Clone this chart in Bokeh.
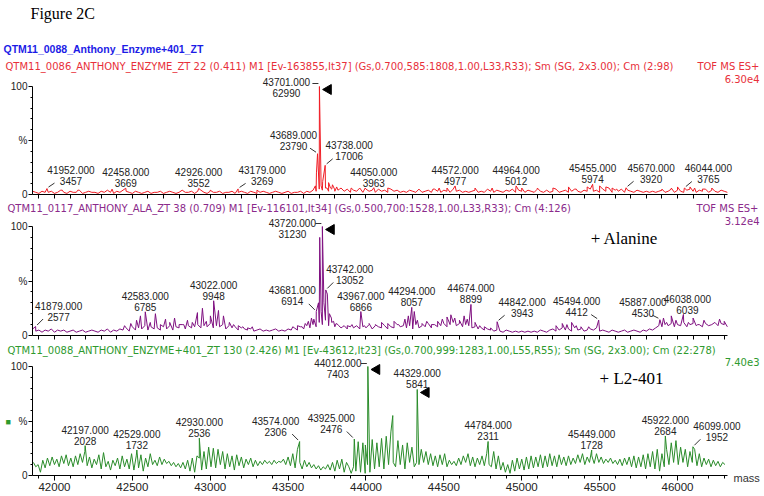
import numpy as np
from bokeh.plotting import figure
from bokeh.models import (Range1d, FixedTicker, Label, LabelSet, ColumnDataSource, LinearAxis)
from bokeh.core.properties import value
from bokeh.embed import file_html
from bokeh.resources import INLINE

try:
    from bokeh.models import GlobalInlineStyleSheet
except Exception:
    GlobalInlineStyleSheet = None

# ------------------------------------------------------------------ data
MASS_MIN, MASS_MAX = 41859, 46321
X_MAJOR = [42000, 42500, 43000, 43500, 44000, 44500, 45000, 45500, 46000]
X_MINOR = list(range(41900, 46400, 100))
Y_TICKS = [0, 50, 100]
Y_MINOR = [10, 20, 30, 40, 60, 70, 80, 90]
Y_TICK_LABELS = {0: "0", 50: "%", 100: "100"}

FIG_TITLE = "Figure 2C"
TOP_TITLE = "QTM11_0088_Anthony_Enzyme+401_ZT"
HEADERS = [
    "QTM11_0086_ANTHONY_ENZYME_ZT  22 (0.411) M1 [Ev-163855,It37] (Gs,0.700,585:1808,1.00,L33,R33); Sm (SG, 2x3.00); Cm (2:98)",
    "QTM11_0117_ANTHONY_ALA_ZT  38 (0.709) M1 [Ev-116101,It34] (Gs,0.500,700:1528,1.00,L33,R33); Cm (4:126)",
    "QTM11_0088_ANTHONY_ENZYME+401_ZT  130 (2.426) M1 [Ev-43612,It23] (Gs,0.700,999:1283,1.00,L55,R55); Sm (SG, 2x3.00); Cm (22:278)",
]
MODES = ["TOF MS ES+", "TOF MS ES+", ""]
SCALES = ["6.30e4", "3.12e4", "7.40e3"]
ANNOTATIONS = ["", "+ Alanine", "+ L2-401"]
X_AXIS_TITLE = "mass"

# panel 1 (red): noise sampled every 20 Da from 41860, in % of full scale
P1_NOISE_START, P1_NOISE_STEP = 41860, 20
P1_NOISE = [
    3, 2, 1, 3, 2, 2, 3, 1, 2, 4, 2, 1, 3, 2, 2, 4, 1, 2, 3, 2,
    2, 1, 3, 2, 4, 2, 1, 3, 2, 4, 3, 2, 1, 3, 2, 1, 2, 3, 1, 2,
    2, 3, 1, 2, 3, 2, 1, 2, 4, 2, 2, 3, 1, 3, 4, 2, 1, 3, 2, 2,
    3, 1, 2, 2, 3, 1, 2, 3, 2, 1, 3, 2, 1, 2, 3, 2, 1, 2, 3, 2,
    1, 2, 3, 1, 2, 2, 3, 1, 3, 2, 4, 3, 5, 4, 6, 3, 5, 3, 4, 6,
    3, 5, 2, 4, 3, 6, 2, 5, 3, 4, 2, 5, 3, 4, 2, 5, 3, 4, 2, 3,
    2, 4, 3, 2, 5, 2, 3, 4, 2, 5, 3, 2, 4, 3, 2, 5, 3, 4, 2, 3,
    2, 3, 4, 2, 3, 2, 5, 3, 2, 4, 3, 2, 4, 3, 5, 2, 4, 3, 2, 4,
    3, 2, 5, 3, 2, 4, 2, 3, 5, 2, 3, 4, 2, 3, 5, 3, 2, 4, 3, 5,
    3, 4, 2, 5, 3, 6, 2, 4, 3, 5, 2, 4, 3, 2, 4, 3, 2, 3, 2, 3,
    2, 3, 4, 2, 3, 5, 2, 4, 3, 2, 4, 5, 3, 2, 4, 3, 5, 2, 4, 3,
    2, 4, 3, 2,
]
P1_SPIKE_MASS = [42050, 42150, 42370, 43000, 43300, 43675, 43682, 43712, 43722, 43750,
                 43760, 43772, 43785, 43798, 43812, 43830, 43905, 43995, 44140, 44430,
                 44470, 44520, 44700, 44810, 45000, 45100, 45200, 45300, 45350, 45420,
                 45500, 45540, 45580, 45610, 45900, 45960, 46000, 46080, 46110, 46160, 46220]
P1_SPIKE_PCT = [4, 4, 5, 4, 4, 8, 20, 8, 12, 6,
                11, 6, 9, 5, 7, 5, 6, 6, 6, 5,
                6, 6, 6, 6, 6, 6, 6, 7, 5, 7,
                8, 7, 6, 5, 5, 6, 7, 7, 6, 5, 6]
P1_PEAK_MASS = [41952, 42458, 42926, 43179, 43689, 43701, 43738, 44050, 44572, 44964, 45455, 45670, 46044]
P1_PEAK_COUNT = [3457, 3669, 3552, 3269, 23790, 62990, 17006, 3963, 4977, 5012, 5974, 3920, 3765]
P1_ARROWS = [43701]

# panel 2 (purple)
P2_NOISE_START, P2_NOISE_STEP = 41860, 20
P2_NOISE = [
    6, 4, 5, 3, 5, 4, 6, 3, 5, 4, 5, 3, 4, 5, 3, 4, 5, 3, 4, 5,
    4, 3, 5, 4, 6, 3, 5, 4, 6, 5, 7, 4, 8, 5, 7, 6, 9, 5, 8, 6,
    7, 5, 8, 6, 9, 5, 8, 7, 10, 6, 9, 7, 8, 10, 7, 9, 8, 11, 7, 9,
    8, 10, 6, 9, 7, 8, 5, 7, 6, 5, 6, 4, 5, 6, 4, 5, 4, 5, 6, 4,
    5, 4, 6, 5, 7, 5, 8, 6, 9, 7, 10, 8, 12, 10, 14, 9, 12, 8, 10, 7,
    9, 6, 8, 7, 9, 6, 8, 7, 10, 6, 9, 8, 7, 9, 6, 8, 7, 10, 8, 9,
    7, 9, 6, 10, 7, 9, 8, 11, 7, 10, 8, 9, 11, 8, 10, 12, 9, 11, 8, 10,
    9, 7, 8, 6, 7, 5, 6, 5, 4, 5, 4, 3, 5, 4, 3, 4, 3, 4, 3, 4,
    3, 4, 3, 5, 4, 3, 5, 6, 4, 5, 7, 5, 6, 4, 7, 5, 6, 4, 5, 6,
    5, 7, 4, 5, 4, 3, 5, 4, 3, 4, 5, 3, 4, 5, 4, 3, 5, 4, 6, 5,
    7, 9, 8, 10, 9, 11, 8, 10, 9, 12, 8, 10, 11, 9, 10, 8, 11, 9, 10, 12,
    9, 11, 10, 8,
]
P2_SPIKE_MASS = [42450, 42490, 42527, 42552, 42615, 42648, 42680, 42713, 42740, 42771,
                 42800, 42830, 42854, 42885, 42918, 42950, 42975, 43001, 43053, 43085,
                 43123, 43150, 43180, 43210, 43240, 43270, 43530, 43560, 43590, 43610,
                 43630, 43650, 43665, 43695, 43703, 43712, 43730, 43752, 43765, 43778,
                 43792, 43808, 43825, 43850, 43880, 43910, 43940, 43990, 44020, 44060,
                 44100, 44140, 44180, 44210, 44250, 44272, 44310, 44330, 44360, 44390,
                 44420, 44460, 44490, 44520, 44545, 44570, 44600, 44630, 44650, 44700,
                 44730, 44760, 44800, 45220, 45260, 45290, 45320, 45350, 45380, 45430,
                 45910, 45930, 45960, 45990, 46070, 46100, 46130, 46170, 46200, 46240,
                 46270, 46300]
P2_SPIKE_PCT = [9, 11, 14, 18, 12, 20, 10, 15, 12, 16,
                10, 10, 14, 12, 21, 25, 13, 18, 23, 18,
                12, 10, 9, 8, 7, 8, 8, 9, 8, 11,
                13, 16, 15, 30, 90, 22, 30, 38, 20, 16,
                13, 11, 9, 8, 9, 10, 9, 9, 11, 10,
                12, 11, 13, 10, 15, 18, 22, 14, 11, 13,
                10, 13, 15, 17, 19, 16, 14, 18, 15, 12,
                9, 8, 7, 9, 11, 10, 12, 9, 8, 8,
                16, 12, 18, 14, 12, 16, 10, 14, 9, 12,
                15, 13]
P2_PEAK_MASS = [41879, 42583, 43022, 43681, 43720, 43742, 43967, 44294, 44674, 44842, 45494, 45887, 46038]
P2_PEAK_COUNT = [2577, 6785, 9948, 6914, 31230, 13052, 6866, 8057, 8899, 3943, 4412, 4530, 6039]
P2_ARROWS = [43720]

# panel 3 (green): noise sampled every 15 Da from 41865
P3_NOISE_START, P3_NOISE_STEP = 41865, 15
P3_NOISE = [
    12, 8, 10, 3, 14, 7, 16, 9, 17, 10, 15, 8, 18, 11, 19, 9, 16, 8, 18, 10,
    20, 12, 22, 9, 17, 7, 15, 10, 19, 6, 21, 8, 13, 5, 14, 9, 16, 6, 18, 8,
    15, 6, 20, 5, 18, 7, 19, 4, 16, 8, 20, 10, 14, 9, 17, 10, 15, 11, 13, 9,
    12, 8, 11, 7, 12, 6, 14, 4, 16, 3,
    18, 16, 5, 22, 6, 26, 8, 25, 7, 24, 10, 22, 6, 20, 8, 18, 5, 19, 9, 17,
    7, 15, 10, 16, 8, 14, 9, 13, 10, 14, 11, 13, 10, 14, 11, 13, 12, 15, 10, 17,
    9, 20, 7, 24, 12, 6, 14, 8, 12, 7, 10, 6, 9, 5, 8, 6, 10, 5, 12, 4,
    14, 6, 15, 3, 12, 8,
    2, 8, 4, 31, 3, 30, 2, 10, 3, 33, 6, 30, 8, 34, 6, 36, 10, 40, 12, 8,
    32, 10, 28, 6, 30, 12, 26, 8, 12, 10, 24, 12, 22, 10,
    20, 9, 18, 8, 19, 10, 20, 8, 14, 10, 13, 9, 16, 10, 18, 12, 20, 9, 17, 8,
    16, 10, 18, 9, 20, 10, 8, 22, 6, 18, 5, 12, 3,
    10, 2, 14, 4, 16, 6, 15, 5, 17, 6, 18, 7, 17, 8, 19, 7, 18, 8, 20, 9,
    18, 8, 19, 10, 17, 9, 18, 10, 16, 11, 19, 12, 20, 10, 17, 12, 18,
    11, 20, 12, 17, 11, 15, 12, 16, 11, 14, 10, 15, 9, 16, 10, 17, 8, 18, 7, 17,
    8, 19, 6, 20, 8, 22, 6, 24, 4, 20,
    8, 24, 10, 30, 12, 32, 10, 26, 12, 24, 8, 22, 12, 24, 9, 20, 8, 16, 10, 15,
    8, 14, 9, 13, 8, 12, 10,
]
P3_SPIKE_MASS = [43996, 44172]
P3_SPIKE_PCT = [28, 55]
P3_PEAK_MASS = [42197, 42529, 42930, 43574, 43925, 44012, 44329, 44784, 45449, 45922, 46099]
P3_PEAK_COUNT = [2028, 1732, 2536, 2306, 2476, 7403, 5841, 2311, 1728, 2684, 1952]
P3_ARROWS = [44012, 44329]

# ------------------------------------------------------------------ style / layout
W, H = 764, 496
AX_LEFT, AX_RIGHT = 32, 727            # pixel columns of MASS_MIN / MASS_MAX
PANEL_ZERO = [194, 335, 475]           # pixel rows of 0 %
PANEL_TOP = [86, 226, 366]             # pixel rows of 100 %
COLORS = ["#f01c24", "#7f1080", "#2a8c2a"]
HEAD_COLORS = ["#e8303a", "#8b2a8b", "#2e9a2e"]
SANS = "Liberation Sans"
HEAD_FONT = "DejaVu Sans"
HEAD_SIZE = "10px"
SERIF = "Liberation Serif"
TXT = "#222222"
LINE_GAP = 11   # px between the two lines of a peak label
# label placement per peak: (dx px, dy px above peak top, leader type)
P1_LSTYLE = [(24, 4, 1), (0, 1, 0), (0, 1, 0), (24, 4, 1), (-24, 4, -1), (-33, -10, 2), (24, 5, 1),
             (0, 1, 0), (0, 1, 0), (0, 1, 0), (0, 1, 0), (25, 5, 1), (24, 5, 1)]
P2_LSTYLE = [(23, 6, 1), (0, 1, 0), (0, 1, 0), (-24, 6, -1), (-30, -11, 2), (24, 6, 1), (0, 1, 0),
             (0, 1, 0), (0, 1, 0), (25, 5, 1), (-22, 4, -1), (-17, 3, -1), (4, 0, 0)]
P3_LSTYLE = [(0, 1, 0), (0, 1, 0), (0, 1, 0), (-24, 6, -1), (-23, 6, -1), (-30, -11, 2), (0, 1, 0),
             (0, 1, 0), (0, 1, 0), (0, 1, 0), (24, 6, 1)]

SX = (AX_RIGHT - AX_LEFT) / (MASS_MAX - MASS_MIN)   # px per Da


def px2m(px):
    return MASS_MIN + (px - AX_LEFT) / SX


p = figure(width=W, height=H, output_backend="svg", toolbar_location=None,
           x_range=Range1d(px2m(0), px2m(W)), y_range=Range1d(H, 0),
           x_axis_location=None, y_axis_location=None, min_border=0)
p.outline_line_color = None
p.xgrid.grid_line_color = None
p.ygrid.grid_line_color = None
p.background_fill_color = "white"
p.border_fill_color = "white"

extra = {}
for i in range(3):
    ppp = (PANEL_ZERO[i] - PANEL_TOP[i]) / 100.0
    extra[f"p{i}"] = Range1d((PANEL_ZERO[i] - H) / ppp, PANEL_ZERO[i] / ppp)
p.extra_y_ranges = extra


def build_trace(start, step, noise, sm, sp, pm, pc):
    base = max(pc)
    nm = start + step * np.arange(len(noise))
    m = np.concatenate([nm, np.array(sm, float), np.array(pm, float)])
    v = np.concatenate([np.array(noise, float), np.array(sp, float),
                        np.array(pc, float) / base * 100.0])
    order = np.argsort(m, kind="stable")
    return m[order], v[order]


def text(t, x_px, y_px, align="left", size="10px", font=SANS, color=TXT, style="normal"):
    p.add_layout(Label(x=px2m(x_px), y=y_px, text=t, text_align=align,
                       text_baseline="middle", text_font_size=size, text_font=font,
                       text_color=color, text_font_style=style))


def panel(i, noise_start, noise_step, noise, sm, sp, pm, pc, arrows, lstyle, xlabels):
    rn = f"p{i}"
    sy = (PANEL_ZERO[i] - PANEL_TOP[i]) / 100.0     # px per %

    ya = LinearAxis(y_range_name=rn, fixed_location=MASS_MIN, bounds=(0, 100),
                    ticker=FixedTicker(ticks=Y_TICKS, minor_ticks=Y_MINOR),
                    major_label_overrides=Y_TICK_LABELS)
    ya.major_label_text_font_size = "10px"
    ya.major_label_text_font = SANS
    ya.major_label_text_color = TXT
    ya.major_label_standoff = 1
    ya.major_tick_in = 0
    ya.major_tick_out = 4
    ya.minor_tick_in = 0
    ya.minor_tick_out = 2
    ya.axis_line_color = "black"
    p.add_layout(ya, "left")

    if xlabels:
        xt = FixedTicker(ticks=X_MAJOR, minor_ticks=X_MINOR)
    else:
        xt = FixedTicker(ticks=[], minor_ticks=X_MINOR)
    xa = LinearAxis(y_range_name=rn, fixed_location=0, bounds=(MASS_MIN, MASS_MAX), ticker=xt)
    xa.major_label_text_font_size = "11.5px"
    xa.major_label_text_font = SANS
    xa.major_label_text_color = TXT
    xa.major_label_standoff = 2
    xa.major_tick_in = 0
    xa.major_tick_out = 5
    xa.minor_tick_in = 0
    xa.minor_tick_out = 3 if xlabels else 4
    xa.axis_line_color = "black"
    p.add_layout(xa, "below")

    m, v = build_trace(noise_start, noise_step, noise, sm, sp, pm, pc)
    p.line(m, v, line_color=COLORS[i], line_width=1, y_range_name=rn)

    base = max(pc)
    tops = [c / base * 100.0 for c in pc]
    lx, ly_mass, ly_cnt, t_mass, t_cnt = [], [], [], [], []
    seg = dict(x0=[], y0=[], x1=[], y1=[])
    for mass, cnt, t, (dx, dy, lead) in zip(pm, pc, tops, lstyle):
        lx.append(mass + dx / SX)
        ly_cnt.append(t + dy / sy)
        ly_mass.append(t + (dy + LINE_GAP) / sy)
        t_mass.append(f"{mass:.3f}")
        t_cnt.append(f"{cnt}")
        if lead in (1, -1):
            seg["x0"].append(mass + lead * 1.5 / SX)
            seg["y0"].append(t + 1.5 / sy)
            seg["x1"].append(mass + lead * 7.5 / SX)
            seg["y1"].append(t + (dy + 1.5) / sy)
        elif lead == 2:
            seg["x0"].append(mass - 7 / SX)
            seg["y0"].append(t + 3 / sy)
            seg["x1"].append(mass - 1 / SX)
            seg["y1"].append(t + 3 / sy)
    p.segment(x0="x0", y0="y0", x1="x1", y1="y1", source=ColumnDataSource(seg),
              line_color="#333333", line_width=1, y_range_name=rn)
    src = ColumnDataSource(dict(x=lx, ym=ly_mass, yc=ly_cnt, tm=t_mass, tc=t_cnt))
    for ycol, tcol in (("ym", "tm"), ("yc", "tc")):
        p.add_layout(LabelSet(x="x", y=ycol, text=tcol, source=src, y_range_name=rn,
                              text_align="center", text_baseline="bottom",
                              text_font_size="10px", text_font=value(SANS),
                              text_color=TXT))

    at = [tops[pm.index(a)] for a in arrows]
    p.scatter([a + 9 / SX for a in arrows], [t - 3 / sy for t in at], marker="triangle",
              angle=np.pi / 2, size=10, fill_color="black", line_color="black",
              y_range_name=rn)


panel(0, P1_NOISE_START, P1_NOISE_STEP, P1_NOISE, P1_SPIKE_MASS, P1_SPIKE_PCT,
      P1_PEAK_MASS, P1_PEAK_COUNT, P1_ARROWS, P1_LSTYLE, False)
panel(1, P2_NOISE_START, P2_NOISE_STEP, P2_NOISE, P2_SPIKE_MASS, P2_SPIKE_PCT,
      P2_PEAK_MASS, P2_PEAK_COUNT, P2_ARROWS, P2_LSTYLE, False)
panel(2, P3_NOISE_START, P3_NOISE_STEP, P3_NOISE, P3_SPIKE_MASS, P3_SPIKE_PCT,
      P3_PEAK_MASS, P3_PEAK_COUNT, P3_ARROWS, P3_LSTYLE, True)

# header / annotation texts (pixel positions)
text(FIG_TITLE, 30, 13, size="16px", font=SERIF, color="black")
text(TOP_TITLE, 3, 48, size="10.5px", color="#1c1ce6", style="bold")
text(HEADERS[0], 5, 66, size=HEAD_SIZE, font=HEAD_FONT, color=HEAD_COLORS[0])
text(MODES[0], 759, 66, align="right", size=HEAD_SIZE, font=HEAD_FONT, color=HEAD_COLORS[0])
text(SCALES[0], 759, 78, align="right", size=HEAD_SIZE, font=HEAD_FONT, color=HEAD_COLORS[0])

text(HEADERS[1], 7, 208, size=HEAD_SIZE, font=HEAD_FONT, color=HEAD_COLORS[1])
text(MODES[1], 758, 208, align="right", size=HEAD_SIZE, font=HEAD_FONT, color=HEAD_COLORS[1])
text(SCALES[1], 759, 220, align="right", size=HEAD_SIZE, font=HEAD_FONT, color=HEAD_COLORS[1])
text(ANNOTATIONS[1], 624, 238, align="center", size="17px", font=SERIF, color="black")

text(HEADERS[2], 7, 350, size=HEAD_SIZE, font=HEAD_FONT, color=HEAD_COLORS[2])
text(SCALES[2], 759, 361, align="right", size=HEAD_SIZE, font=HEAD_FONT, color=HEAD_COLORS[2])
text(ANNOTATIONS[2], 631, 378, align="center", size="17px", font=SERIF, color="black")
text("\u25a0", 5, 421, size="9px", color=HEAD_COLORS[2])
text(X_AXIS_TITLE, 733, 477, size="11px", color="#333333")

if GlobalInlineStyleSheet is not None:
    p.stylesheets = [GlobalInlineStyleSheet(css="html, body { overflow: hidden; }")]

open("out.html", "w").write(file_html(p, INLINE))
